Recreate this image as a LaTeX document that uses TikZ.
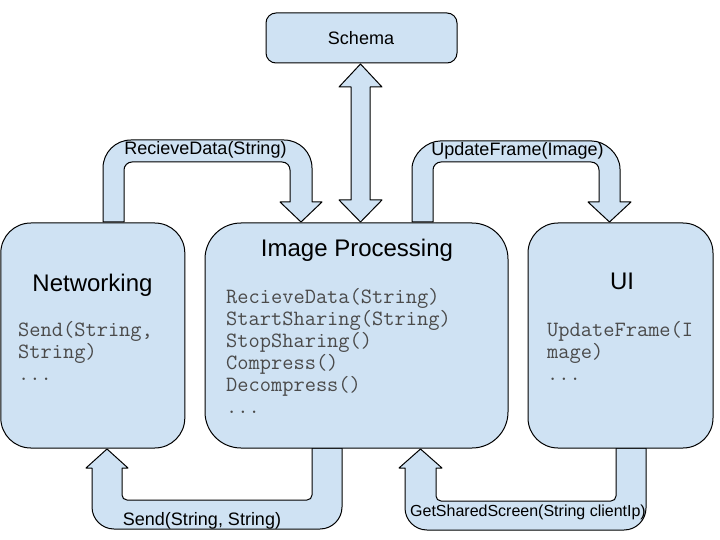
\documentclass[tikz,border=0pt]{standalone}
\usepackage{fontspec}
\setmainfont{Liberation Sans}
\definecolor{boxblue}{HTML}{CFE2F3}
\definecolor{codegray}{HTML}{4A4A4A}
\tikzset{
  box/.style={draw=black, fill=boxblue, line width=1pt, rectangle, inner sep=0pt},
  blockarrow/.style={draw=black, fill=boxblue, line width=1pt, line join=round},
  title/.style={anchor=base, inner sep=0pt, font=\fontsize{24}{28}\selectfont},
  lbl/.style={anchor=base, inner sep=0pt, font=\fontsize{18}{21}\selectfont},
  code/.style={anchor=base west, inner sep=0pt, text=codegray, font=\ttfamily\fontsize{21.8}{22}\selectfont},
}
\begin{document}
\begin{tikzpicture}[x=1pt, y=-1pt]
\useasboundingbox (0,0) rectangle (720,540);

% block arrows (drawn first)
% RecieveData
\draw[blockarrow] (103,222) -- (103,168) .. controls (103,152.5) and (115.5,140) .. (131,140)
  -- (284,140) .. controls (299.5,140) and (312,152.5) .. (312,168) -- (312,202) -- (322,202)
  -- (301,222) -- (280,202) -- (290,202) -- (290,170) .. controls (290,165.6) and (286.6,162) .. (282,162)
  -- (132,162) .. controls (127.6,162) and (124,165.6) .. (124,170) -- (124,222) -- cycle;
% UpdateFrame
\draw[blockarrow] (412,222) -- (412,169) .. controls (412,153.5) and (427.5,141) .. (440,141)
  -- (592,141) .. controls (604.5,141) and (620,153.5) .. (620,169) -- (620,202) -- (631,202)
  -- (609.5,222) -- (588,202) -- (599,202) -- (599,170) .. controls (599,165.6) and (595.6,162) .. (591,162)
  -- (441,162) .. controls (436.6,162) and (433,165.6) .. (433,170) -- (433,222) -- cycle;
% Send
\draw[blockarrow] (342,448) -- (342,507) .. controls (342,519.1) and (332.1,529) .. (320,529)
  -- (114,529) .. controls (101.9,529) and (92,519.1) .. (92,507) -- (92,468) -- (86,468)
  -- (107,449) -- (128,468) -- (122,468) -- (122,495) .. controls (122,497.8) and (124.2,500) .. (127,500)
  -- (307,500) .. controls (309.8,500) and (312,497.8) .. (312,495) -- (312,448) -- cycle;
% GetSharedScreen
\draw[blockarrow] (646,448) -- (646,508) .. controls (646,520.1) and (636.1,530) .. (624,530)
  -- (427,530) .. controls (414.9,530) and (405,520.1) .. (405,508) -- (405,468) -- (399,468)
  -- (420.5,449) -- (442,468) -- (436,468) -- (436,496) .. controls (436,498.8) and (438.2,501) .. (441,501)
  -- (611,501) .. controls (613.8,501) and (616,498.8) .. (616,496) -- (616,448) -- cycle;
% Schema double arrow
\draw[blockarrow] (351,87) -- (339,87) -- (360.5,64) -- (382,87) -- (370,87) -- (370,200)
  -- (382,200) -- (360.5,222) -- (339,200) -- (351,200) -- cycle;

% boxes
\node[box, rounded corners=10pt, minimum width=191pt, minimum height=50pt] (sch) at (361.5,38) {};
\node[box, rounded corners=30pt, minimum width=184pt, minimum height=225pt] (net) at (92.8,335.5) {};
\node[box, rounded corners=36pt, minimum width=303pt, minimum height=225pt] (img) at (356.5,335.5) {};
\node[box, rounded corners=30pt, minimum width=185pt, minimum height=225pt] (ui) at (620.5,335.5) {};

% titles
\node[lbl] (schT) at (361,45) {Schema};
\node[title] (netT) at (92.5,291) {Networking};
\node[title] (imgT) at (357,256) {Image Processing};
\node[title] (uiT) at (622,289) {UI};

% code lines
\node[code] (n1) at (18,336) {Send(String,};
\node[code] (n2) at (18,358) {String)};
\node[code] (n3) at (18,380) {...};

\node[code] (i1) at (226,303) {RecieveData(String)};
\node[code] (i2) at (226,325) {StartSharing(String)};
\node[code] (i3) at (226,347) {StopSharing()};
\node[code] (i4) at (226,369) {Compress()};
\node[code] (i5) at (226,391) {Decompress()};
\node[code] (i6) at (226,413) {...};

\node[code] (u1) at (547,336) {UpdateFrame(I};
\node[code] (u2) at (547,358) {mage)};
\node[code] (u3) at (547,380) {...};

% arrow labels
\node[lbl] (lRecv) at (205.5,155) {RecieveData(String)};
\node[lbl] (lUpd) at (517.5,156) {UpdateFrame(Image)};
\node[lbl] (lSend) at (202,525) {Send(String, String)};
\node[anchor=base, inner sep=0pt, font=\fontsize{16}{19}\selectfont] (lGet) at (528,516) {GetSharedScreen(String clientIp)};
\end{tikzpicture}
\end{document}
